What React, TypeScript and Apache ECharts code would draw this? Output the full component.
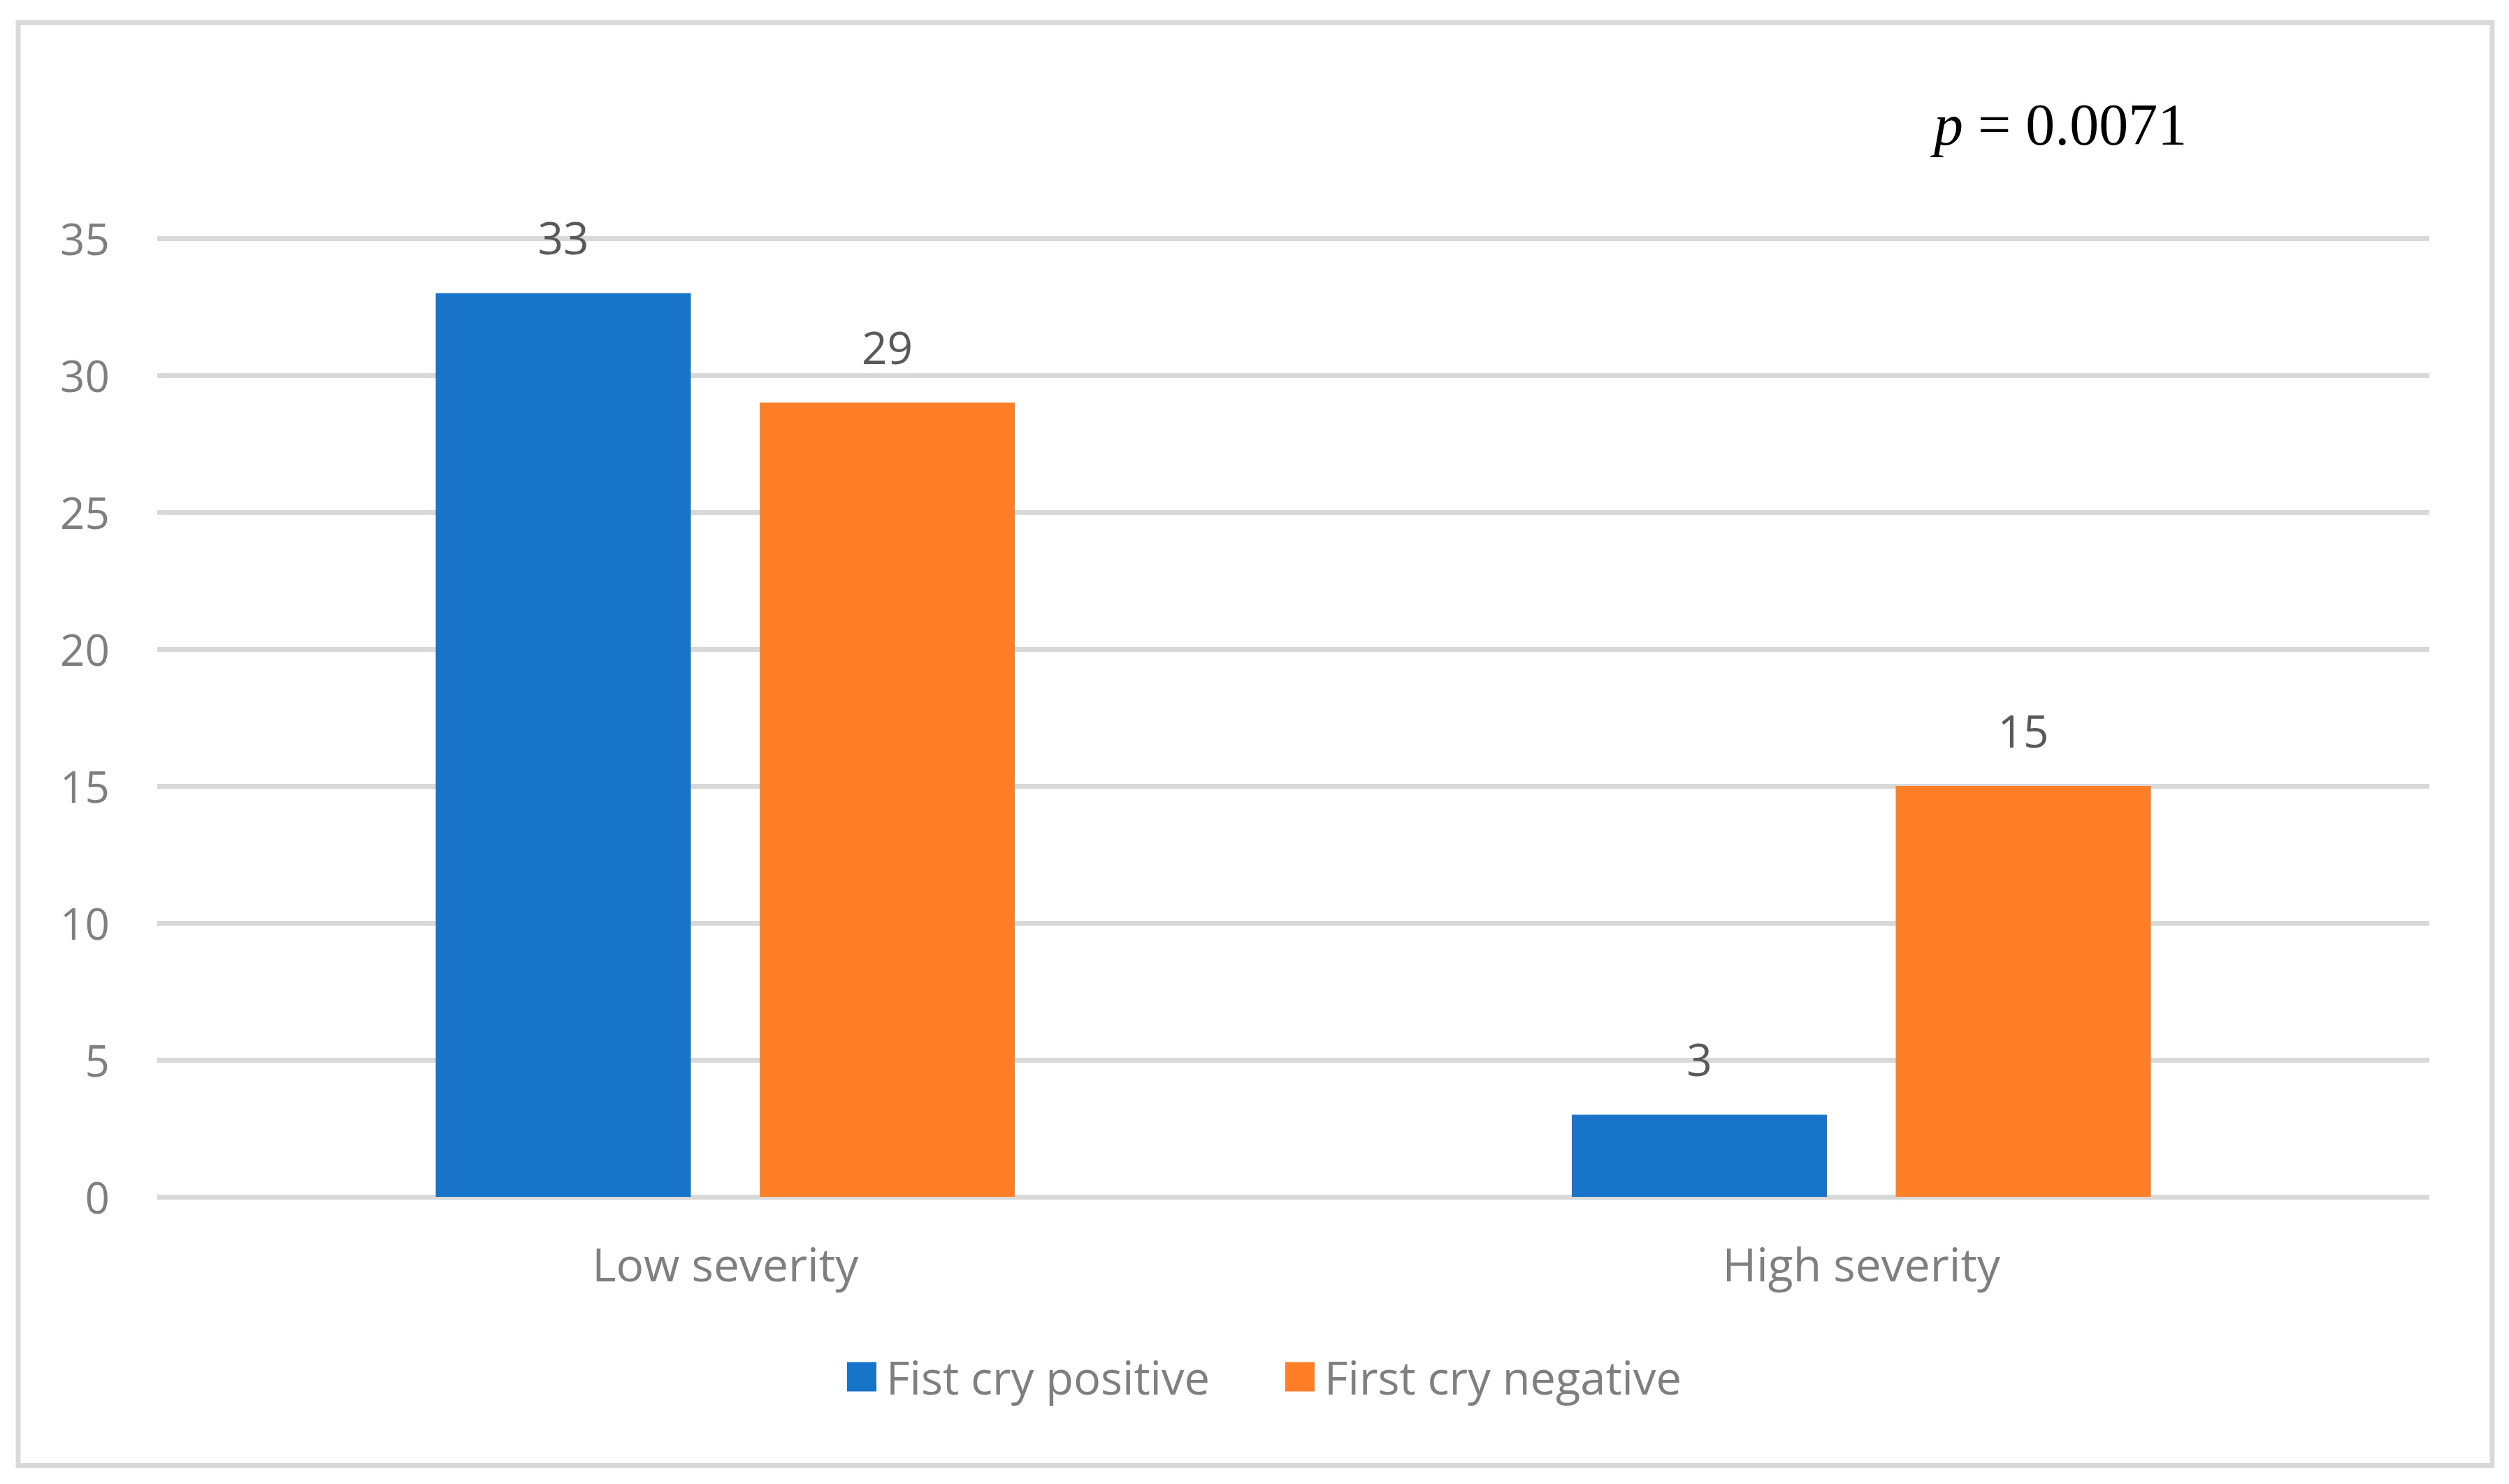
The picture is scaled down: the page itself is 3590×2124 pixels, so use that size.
import React, { useEffect, useRef } from "react";
import * as echarts from "echarts";

const categories = ["Low severity", "High severity"];
const seriesNames = ["Fist cry positive", "First cry negative"];
const positiveValues = [33, 3];
const negativeValues = [29, 15];
const pValueText = "0.0071";

const BLUE = "#1874C9";
const ORANGE = "#FE7F27";
const FONT = "'Open Sans', 'Noto Sans', sans-serif";

export default function App() {
  const ref = useRef<HTMLDivElement>(null);

  useEffect(() => {
    if (!ref.current) return;
    const chart = echarts.init(ref.current, undefined, { renderer: "svg" });
    const labelCfg = {
      show: true,
      position: "top",
      distance: 48,
      color: "#595959",
      fontSize: 64,
      fontFamily: FONT,
    };
    chart.setOption({
      animation: false,
      backgroundColor: "#ffffff",
      grid: {
        left: 225,
        right: 114,
        top: 341,
        bottom: 411,
        containLabel: false,
        outerBoundsMode: "none",
      },
      legend: {
        data: seriesNames,
        left: 1207,
        top: 1933,
        icon: "rect",
        itemWidth: 42,
        itemHeight: 42,
        itemGap: 108,
        textStyle: {
          color: "#7f7f7f",
          fontSize: 65,
          fontFamily: FONT,
          padding: [0, 0, 0, 9],
        },
      },
      xAxis: {
        type: "category",
        data: categories,
        axisLine: { show: false },
        axisTick: { show: false },
        axisLabel: {
          color: "#7f7f7f",
          fontSize: 66,
          fontFamily: FONT,
          margin: 62,
        },
      },
      yAxis: {
        type: "value",
        min: 0,
        max: 35,
        interval: 5,
        axisLine: { show: false },
        axisTick: { show: false },
        axisLabel: {
          color: "#7f7f7f",
          fontSize: 62,
          fontFamily: FONT,
          margin: 68,
        },
        splitLine: { lineStyle: { color: "#d9d9d9", width: 7 } },
      },
      series: [
        {
          name: seriesNames[0],
          type: "bar",
          data: positiveValues,
          barWidth: 365,
          barGap: "27%",
          itemStyle: { color: BLUE },
          label: labelCfg,
        },
        {
          name: seriesNames[1],
          type: "bar",
          data: negativeValues,
          barWidth: 365,
          barGap: "27%",
          itemStyle: { color: ORANGE },
          label: labelCfg,
        },
      ],
      graphic: [
        {
          type: "rect",
          shape: { x: 26, y: 32.5, width: 3540, height: 2065 },
          style: { fill: "none", stroke: "#d9d9d9", lineWidth: 7 },
          silent: true,
          z: -1,
        },
        {
          type: "text",
          x: 2767,
          y: 178,
          style: {
            text: "{i|p} = " + pValueText,
            fill: "#000000",
            fontSize: 84,
            fontFamily: "'Liberation Serif', 'Times New Roman', serif",
            verticalAlign: "middle",
            align: "left",
            rich: {
              i: {
                fontStyle: "italic",
                fontSize: 84,
                fontFamily: "'Liberation Serif', 'Times New Roman', serif",
                fill: "#000000",
              },
            },
          },
        },
      ],
    });
    return () => chart.dispose();
  }, []);

  return (
    <div
      ref={ref}
      style={{
        position: "absolute",
        left: 0,
        top: 0,
        width: 3590,
        height: 2124,
        background: "#ffffff",
      }}
    />
  );
}
